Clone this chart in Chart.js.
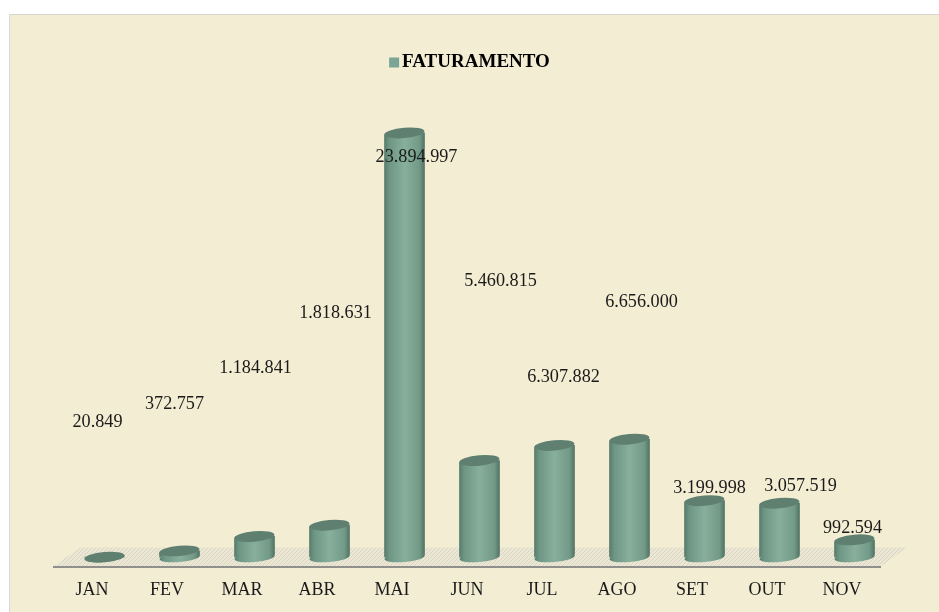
<!DOCTYPE html>
<html>
<head>
<meta charset="utf-8">
<title>Faturamento</title>
<script src="https://cdn.jsdelivr.net/npm/chart.js@4"></script>
<style>
  html, body { margin: 0; padding: 0; background: #fff; overflow: hidden; }
  #panel { position: absolute; left: 9px; top: 14px; right: 0; bottom: 0; background: #f3edd3; border-left: 1px solid #d9d9d9; border-top: 1px solid #d9d4cf; }
  #wrap { position: absolute; left: 0; top: 0; width: 939px; height: 612px; }
</style>
</head>
<body>
<div id="panel"></div>
<div id="wrap"><canvas id="chartscreen"></canvas></div>
<script>
const months = ["JAN", "FEV", "MAR", "ABR", "MAI", "JUN", "JUL", "AGO", "SET", "OUT", "NOV"];
const faturamento = [20849, 372757, 1184841, 1818631, 23894997, 5460815, 6307882, 6656000, 3199998, 3057519, 992594];
const seriesName = "FATURAMENTO";

// the value labels sit away from the bars in the original, offset from each bar top
const labelDx = [-7, -5, 1, 6, 12, 21, 9, 12, 5, 21, -2];
const labelDy = [-135, -147, -168, -212, 24, -179, -68, -137, -12, -17, -12];

const serif = "'Liberation Serif', 'Times New Roman', serif";
const solidGreen = "#7ba596";
const topGreen = "#5f8070";

function barGradient(context) {
    if (context.type !== "data") {
        return solidGreen;
    }
    const cx = context.chart.scales.x.getPixelForValue(context.dataIndex);
    // scale is not ready on the first pass
    if (!Number.isFinite(cx)) {
        return solidGreen;
    }
    const g = context.chart.ctx.createLinearGradient(cx - 20, 0, cx + 20, 0);
    g.addColorStop(0, "#587c6c");
    g.addColorStop(0.12, "#6f9685");
    g.addColorStop(0.5, "#87af9c");
    g.addColorStop(0.87, "#739a88");
    g.addColorStop(1, "#527464");
    return g;
}

function hatchPattern(ctx) {
    const p = document.createElement("canvas");
    p.width = 4;
    p.height = 4;
    const c = p.getContext("2d");
    c.fillStyle = "#ece7d2";
    c.fillRect(0, 0, 4, 4);
    c.fillStyle = "#d8d5c6";
    for (let i = 0; i < 4; i++) {
        c.fillRect(i, 3 - i, 1, 1);
    }
    return ctx.createPattern(p, "repeat");
}

// floor under the bars and the axis line in front of it
const floorPlugin = {
    id: "floor",
    beforeDatasetsDraw(chart) {
        const ctx = chart.ctx;
        const a = chart.chartArea;
        ctx.save();
        ctx.fillStyle = hatchPattern(ctx);
        ctx.beginPath();
        ctx.moveTo(a.left - 14, a.bottom + 9);
        ctx.lineTo(a.left + 13, a.bottom - 10);
        ctx.lineTo(a.right + 15, a.bottom - 10);
        ctx.lineTo(a.right - 11, a.bottom + 9);
        ctx.closePath();
        ctx.fill();
        ctx.strokeStyle = "#8f8f8b";
        ctx.lineWidth = 2;
        ctx.beginPath();
        ctx.moveTo(a.left - 14, a.bottom + 9.5);
        ctx.lineTo(a.right - 11, a.bottom + 9.5);
        ctx.stroke();
        ctx.restore();
    }
};

// turns the flat bars into cylinders and writes the value labels
const cylinderPlugin = {
    id: "cylinder",
    afterDatasetsDraw(chart) {
        const ctx = chart.ctx;
        const meta = chart.getDatasetMeta(0);
        const tilt = -0.09;
        ctx.save();
        meta.data.forEach(function (bar, i) {
            const rx = bar.width / 2;
            ctx.fillStyle = bar.options.backgroundColor;
            ctx.beginPath();
            ctx.ellipse(bar.x, bar.base, rx, 4.5, tilt, 0, Math.PI * 2);
            ctx.fill();
            ctx.fillStyle = topGreen;
            ctx.beginPath();
            ctx.ellipse(bar.x, bar.y, rx, 5.2, tilt, 0, Math.PI * 2);
            ctx.fill();
        });
        ctx.fillStyle = "#1a1a1a";
        ctx.font = "18.2px " + serif;
        ctx.textAlign = "center";
        ctx.textBaseline = "middle";
        meta.data.forEach(function (bar, i) {
            const text = faturamento[i].toLocaleString("de-DE");
            ctx.fillText(text, bar.x + labelDx[i], bar.y + labelDy[i]);
        });
        ctx.restore();
    },
    // the legend's own box leaves too wide a gap before the text, so it is hidden and painted here
    afterDraw(chart) {
        const hit = chart.legend.legendHitBoxes[0];
        const ctx = chart.ctx;
        ctx.save();
        ctx.fillStyle = solidGreen;
        ctx.fillRect(hit.left, hit.top + hit.height / 2 - 5, 10, 10);
        ctx.restore();
    }
};

new Chart(document.getElementById("chartscreen"), {
    type: "bar",
    data: {
        labels: months,
        datasets: [{
            label: seriesName,
            data: faturamento,
            backgroundColor: barGradient,
            borderWidth: 0,
            barThickness: 40,
            borderSkipped: false,
            borderRadius: { topLeft: 3, topRight: 0, bottomLeft: 0, bottomRight: 4 }
        }]
    },
    options: {
        responsive: true,
        maintainAspectRatio: false,
        animation: false,
        layout: { padding: { left: 47, right: 47, top: 0, bottom: 0 } },
        plugins: {
            tooltip: { enabled: false },
            legend: {
                position: "top",
                onClick: null,
                labels: {
                    boxWidth: 3.5,
                    boxHeight: 10,
                    padding: 53,
                    color: "#1a1a1a",
                    font: { family: serif, size: 19, weight: "bold" },
                    generateLabels(chart) {
                        return [{
                            text: seriesName,
                            fillStyle: "transparent",
                            strokeStyle: "transparent",
                            lineWidth: 0,
                            datasetIndex: 0
                        }];
                    }
                }
            }
        },
        scales: {
            x: {
                grid: { display: false },
                border: { display: false },
                ticks: {
                    labelOffset: -12.5,
                    maxRotation: 0,
                    autoSkip: false,
                    padding: 14,
                    color: "#1a1a1a",
                    font: { family: serif, size: 18 }
                },
                afterFit(scale) { scale.height = 54.5; }
            },
            y: {
                min: 0,
                max: 26760000,
                grid: { display: false },
                border: { display: false },
                ticks: { display: false },
                afterFit(scale) { scale.width = 20; }
            }
        }
    },
    plugins: [floorPlugin, cylinderPlugin]
});
</script>
</body>
</html>
